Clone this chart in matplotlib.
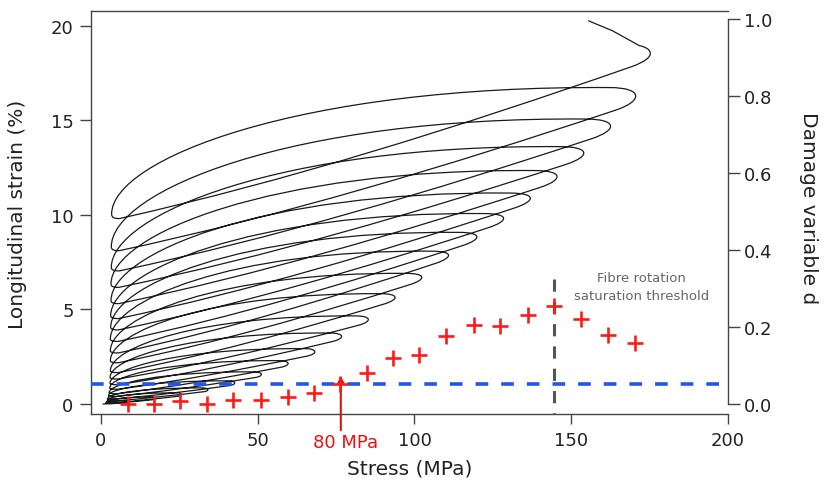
import matplotlib.pyplot as plt
from matplotlib.path import Path
from matplotlib.patches import PathPatch

# cyclic tensile test, one entry per cycle (stress MPa, strain %)
peak_stress = [8.5, 17, 25.5, 34, 42.5, 51, 59.5, 68, 76.5, 85, 93.5, 102,
               110.5, 119.5, 128, 136.5, 145, 153.5, 162, 170]
peak_strain = [0.12, 0.3, 0.5, 0.75, 1.1, 1.55, 2.12, 2.73, 3.53, 4.41, 5.56, 6.61,
               7.76, 8.73, 9.7, 10.76, 11.9, 13.14, 14.55, 16.14]
loop_width = [0.12, 0.15, 0.18, 0.2, 0.25, 0.3, 0.35, 0.4, 0.45, 0.5, 0.55, 0.6,
              0.65, 0.7, 0.75, 0.8, 0.9, 0.95, 1.05, 1.2]
valley_stress = [1.5, 1.8, 2.0, 2.2, 2.4, 2.6, 2.8, 2.9, 2.9, 3.0, 3.0, 3.0,
                 3.0, 3.1, 3.1, 3.2, 3.2, 3.3, 3.3, 3.4]
valley_strain = [0.05, 0.1, 0.2, 0.3, 0.45, 0.6, 0.85, 1.1, 1.41, 1.76, 2.29, 2.82,
                 3.44, 4.06, 4.67, 5.47, 6.35, 7.23, 8.32, 10.05]
# last reload, up to failure
failure_stress = [175.1, 171.7, 163.1, 155.4]
failure_strain = [18.43, 18.96, 19.75, 20.28]

# damage variable per cycle
damage_stress = [8.5, 16.9, 25.2, 33.7, 42.1, 51.0, 59.5, 67.9, 76.3, 84.8, 93.1, 101.6,
                 110.1, 119.1, 127.4, 136.1, 144.6, 153.1, 161.6, 170.3]
damage = [0.0, 0.0, 0.009, 0.0, 0.011, 0.011, 0.017, 0.028, 0.052, 0.081, 0.119, 0.127,
          0.177, 0.205, 0.203, 0.231, 0.255, 0.221, 0.179, 0.158]

damage_threshold = 0.053
onset_stress = 76.5
saturation_stress = 144.6
saturation_top = 0.325


def reload_to(verts, codes, x0, y0, s, e, w):
    # reload branch from (x0, y0) to just under the tip
    ax_, ay_ = 0.965 * s, e - w / 2
    dx, dy = ax_ - x0, ay_ - y0
    verts += [(x0 + 0.33 * dx, y0 + 0.25 * dy), (x0 + 0.66 * dx, y0 + 0.6 * dy), (ax_, ay_)]
    codes += [Path.CURVE4] * 3
    slope = 1.18 * dy / dx
    return ax_, ay_, slope


def build_path():
    verts = [(0.5, 0.0)]
    codes = [Path.MOVETO]
    x0, y0 = 0.5, 0.0
    for s, e, w, vs, ve in zip(peak_stress, peak_strain, loop_width, valley_stress, valley_strain):
        ax_, ay_, slope = reload_to(verts, codes, x0, y0, s, e, w)
        # round the tip
        bx, by = 0.955 * s, e + w / 2
        verts += [(ax_ + 0.055 * s, ay_ + 0.055 * s * slope), (bx + 0.06 * s, by), (bx, by)]
        codes += [Path.CURVE4] * 3
        # unloading back to the low stress end
        rng = by - ve
        verts += [(0.37 * s, by + 0.02 * rng), (vs, ve + 0.43 * rng), (vs, ve)]
        codes += [Path.CURVE4] * 3
        tdx = min(2.5, 0.2 * s)
        verts += [(vs, ve - 0.15 * w), (vs + 0.3 * tdx, ve - 0.2 * w), (vs + tdx, ve - 0.2 * w)]
        codes += [Path.CURVE4] * 3
        x0, y0 = vs + tdx, ve - 0.2 * w
    s = failure_stress[0]
    ax_, ay_, slope = reload_to(verts, codes, x0, y0, s, failure_strain[0], 1.2)
    verts += [(ax_ + 0.055 * s, ay_ + 0.055 * s * slope),
              (1.0 * s, failure_strain[1] - 0.1),
              (failure_stress[1], failure_strain[1])]
    codes += [Path.CURVE4] * 3
    for fs, fe in zip(failure_stress[2:], failure_strain[2:]):
        verts.append((fs, fe))
        codes.append(Path.LINETO)
    return Path(verts, codes)


plt.rcParams['font.family'] = ['DejaVu Sans']
axis_color = '#444444'

fig = plt.figure(figsize=(8.3, 4.85), dpi=100)
ax = fig.add_axes([0.1096, 0.1443, 0.7675, 0.8309])
ax2 = ax.twinx()

ax.add_patch(PathPatch(build_path(), facecolor='none', edgecolor='#1a1a1a', lw=0.9))

ax.set_xlim(-3.19, 200)
ax.set_ylim(-0.53, 20.79)
ax2.set_ylim(-0.026, 1.021)

ax.set_xticks([0, 50, 100, 150, 200])
ax.set_yticks([0, 5, 10, 15, 20])
ax2.set_yticks([0, 0.2, 0.4, 0.6, 0.8, 1.0])
ax2.set_yticklabels(['0.0', '0.2', '0.4', '0.6', '0.8', '1.0'])

for a in (ax, ax2):
    for sp in a.spines.values():
        sp.set_color(axis_color)
        sp.set_linewidth(1.0)
ax.spines['right'].set_visible(False)
for side in ['left', 'top', 'bottom']:
    ax2.spines[side].set_visible(False)
ax2.spines['right'].set_bounds(0, 1)

ax.tick_params(axis='y', direction='out', length=8, width=1, color=axis_color,
               labelsize=13, pad=4.5, labelcolor='#222222')
ax.tick_params(axis='x', direction='out', length=7, width=1, color=axis_color,
               labelsize=13, pad=5.5, labelcolor='#222222')
ax2.tick_params(axis='y', direction='out', length=8.5, width=1, color=axis_color,
                labelsize=13, pad=3, labelcolor='#222222')

# damage points and markers
ax2.axhline(damage_threshold, color='#2255ee', lw=2.6, dashes=(3.5, 3.6), zorder=3)
ax2.plot([saturation_stress, saturation_stress], [saturation_top, -0.026], color='#555555',
         lw=2.2, dashes=(4, 3.3), zorder=3, clip_on=False)
ax2.plot(damage_stress, damage, linestyle='none', marker='+', markersize=12,
         markeredgewidth=1.9, color='#ff1a1a', zorder=4, clip_on=False)

ax2.annotate('', xy=(onset_stress, 0.073), xytext=(onset_stress, -0.068),
             arrowprops=dict(arrowstyle='-|>', color='#dd1111', lw=1.5,
                             mutation_scale=9, shrinkA=0, shrinkB=0),
             annotation_clip=False)
ax2.text(77.9, -0.098, '80 MPa', color='#ee1111', fontsize=13, ha='center', va='center')

ax2.text(172.3, 0.306, 'Fibre rotation\nsaturation threshold', color='#666666',
         fontsize=9.5, ha='center', va='center', linespacing=1.5)

fig.text(410 / 830, 1 - 469 / 485, 'Stress (MPa)', fontsize=14.5, ha='center', va='center',
         color='#222222')
fig.text(18 / 830, 1 - 214 / 485, 'Longitudinal strain (%)', fontsize=14.5,
         rotation=90, ha='center', va='center', color='#222222')
fig.text(808 / 830, 1 - 208 / 485, 'Damage variable d', fontsize=14.5,
         rotation=270, ha='center', va='center', color='#222222')

fig.savefig('out.png', dpi=100)
